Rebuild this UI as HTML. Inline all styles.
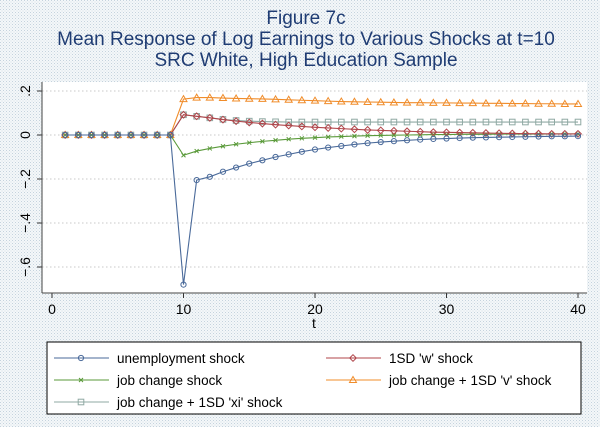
<!DOCTYPE html>
<html><head><meta charset="utf-8"><style>
body{margin:0;width:600px;height:427px;overflow:hidden;font-family:"Liberation Sans",sans-serif;}
</style></head><body>
<svg width="600" height="427" xmlns="http://www.w3.org/2000/svg">
<defs><pattern id="dots" width="3" height="3" patternUnits="userSpaceOnUse"><rect width="3" height="3" fill="#f4f7f9"/><rect width="1" height="1" fill="#c5d3dd"/><rect x="1.5" y="1.5" width="1" height="1" fill="#d6e0e7"/></pattern></defs>
<rect width="600" height="427" fill="url(#dots)"/>
<g fill="#1f3c73" font-size="19" text-anchor="middle">
<text x="306" y="24">Figure 7c</text>
<text x="306" y="45">Mean Response of Log Earnings to Various Shocks at t=10</text>
<text x="306" y="66">SRC White, High Education Sample</text>
</g>
<rect x="42" y="82" width="545" height="211" fill="#fff"/>
<g id="grid"></g>
<g id="axes"></g>
<g id="series"></g>
<rect x="47" y="342" width="534" height="72" fill="#fff" stroke="#000"/>
<g id="legend" font-size="13.5"></g>
</svg>
<script>
const tVals=[];for(let i=1;i<=40;i++)tVals.push(i);
const xTicks=[0,10,20,30,40];
const yTicks=[0.2,0,-0.2,-0.4,-0.6];
const yTickLabels=[".2","0","\u2212.2","\u2212.4","\u2212.6"];
const pre=[0,0,0,0,0,0,0,0,0];
const unemp=pre.concat([-0.68,-0.205,-0.19,-0.167,-0.148,-0.13,-0.115,-0.1,-0.088,-0.076,-0.066,-0.057,-0.05,-0.043,-0.037,-0.032,-0.028,-0.024,-0.021,-0.018,-0.016,-0.014,-0.012,-0.011,-0.01,-0.009,-0.008,-0.007,-0.006,-0.006,-0.005]);
const jobc=pre.concat([-0.092,-0.073,-0.061,-0.051,-0.042,-0.035,-0.029,-0.024,-0.019,-0.015,-0.012,-0.009,-0.007,-0.005,-0.003,-0.002,-0.001,0,0.001,0.002,0.002,0.003,0.003,0.003,0.004,0.004,0.004,0.004,0.005,0.005,0.005]);
const wshock=pre.concat([0.092,0.085,0.078,0.07,0.063,0.057,0.052,0.047,0.043,0.039,0.035,0.032,0.029,0.026,0.023,0.021,0.019,0.017,0.015,0.013,0.012,0.011,0.01,0.009,0.008,0.007,0.006,0.006,0.005,0.005,0.005]);
const vshock=pre.concat([0.163,0.17,0.17,0.168,0.166,0.165,0.164,0.162,0.16,0.158,0.156,0.154,0.152,0.151,0.15,0.149,0.148,0.147,0.147,0.146,0.146,0.145,0.145,0.144,0.144,0.143,0.143,0.142,0.142,0.141,0.141]);
const xishock=pre.concat([0.092,0.085,0.078,0.071,0.066,0.063,0.061,0.06,0.059,0.059,0.059,0.059,0.059,0.059,0.059,0.059,0.059,0.059,0.059,0.059,0.059,0.059,0.059,0.059,0.059,0.059,0.059,0.059,0.059,0.059,0.059]);
const NS="http://www.w3.org/2000/svg";
const X=t=>52+t*13.15, Y=v=>135-v*220;
function mk(tag,attrs,parent){const e=document.createElementNS(NS,tag);for(const k in attrs)e.setAttribute(k,attrs[k]);parent.appendChild(e);return e;}
const grid=document.getElementById('grid'),axes=document.getElementById('axes'),ser=document.getElementById('series'),leg=document.getElementById('legend');
yTicks.forEach((v,i)=>{
 const g=mk('line',{x1:42,x2:587,y1:Y(v),y2:Y(v),stroke:'#c8c8c8','stroke-dasharray':'1.5,2.5'},grid);
 
 const tk=mk('line',{x1:37,x2:42,y1:Y(v),y2:Y(v),stroke:'#333'},axes);
 
 const tx=mk('text',{x:0,y:0,'font-size':'14','text-anchor':'middle',transform:`translate(30,${Y(v)}) rotate(-90)`},axes);
 tx.textContent=yTickLabels[i];
 
});
xTicks.forEach(t=>{
 const tk=mk('line',{x1:X(t),x2:X(t),y1:293,y2:298,stroke:'#333'},axes);
 
 const tx=mk('text',{x:X(t),y:314,'font-size':'14','text-anchor':'middle'},axes);
 tx.textContent=t;
 
});
let a=mk('line',{x1:42,x2:42,y1:82,y2:293,stroke:'#444'},axes);

a=mk('line',{x1:42,x2:587,y1:293,y2:293,stroke:'#444'},axes);

a=mk('text',{x:314,y:328,'font-size':'14','text-anchor':'middle'},axes);a.textContent='t';

function marker(type,x,y,c,p){
 let m;
 if(type==='circle')m=mk('circle',{cx:x,cy:y,r:2.6,fill:'none',stroke:c},p);
 else if(type==='diamond')m=mk('polygon',{points:`${x},${y-3.3} ${x+3.3},${y} ${x},${y+3.3} ${x-3.3},${y}`,fill:'none',stroke:c},p);
 else if(type==='x')m=mk('path',{d:`M${x-2},${y-2}L${x+2},${y+2}M${x-2},${y+2}L${x+2},${y-2}`,stroke:c},p);
 else if(type==='tri')m=mk('polygon',{points:`${x},${y-3.5} ${x+3.5},${y+2.5} ${x-3.5},${y+2.5}`,fill:'none',stroke:c},p);
 else m=mk('rect',{x:x-2.8,y:y-2.8,width:5.6,height:5.6,fill:'none',stroke:c},p);
 return m;
}
const defs=[
 {d:xishock,c:'#8fa9a3',m:'square',n:'series-xi-shock'},
 {d:vshock,c:'#f08c2a',m:'tri',n:'series-v-shock'},
 {d:jobc,c:'#5a9a3a',m:'x',n:'series-job-change'},
 {d:wshock,c:'#b0454a',m:'diamond',n:'series-w-shock'},
 {d:unemp,c:'#4a6a9a',m:'circle',n:'series-unemployment'}];
defs.forEach(s=>{
 const g=mk('g',{},ser);
 
 const pl=mk('polyline',{points:s.d.map((v,i)=>X(tVals[i])+','+Y(v)).join(' '),fill:'none',stroke:s.c,'stroke-width':1.1},g);
 
 s.d.forEach((v,i)=>{const m=marker(s.m,X(tVals[i]),Y(v),s.c,g);
  });
});
const legItems=[
 {x:54,y:358,c:'#4a6a9a',m:'circle',t:'unemployment shock'},
 {x:326,y:358,c:'#b0454a',m:'diamond',t:"1SD 'w' shock"},
 {x:54,y:380,c:'#5a9a3a',m:'x',t:'job change shock'},
 {x:326,y:380,c:'#f08c2a',m:'tri',t:"job change + 1SD 'v' shock"},
 {x:54,y:402,c:'#8fa9a3',m:'square',t:"job change + 1SD 'xi' shock"}];
legItems.forEach(l=>{
 const g=mk('g',{},leg);
 
 mk('line',{x1:l.x,x2:l.x+55,y1:l.y,y2:l.y,stroke:l.c},g);
 marker(l.m,l.x+27,l.y,l.c,g);
 const t=mk('text',{x:l.x+63,y:l.y+5},g);t.textContent=l.t;
});
</script>
</body></html>
